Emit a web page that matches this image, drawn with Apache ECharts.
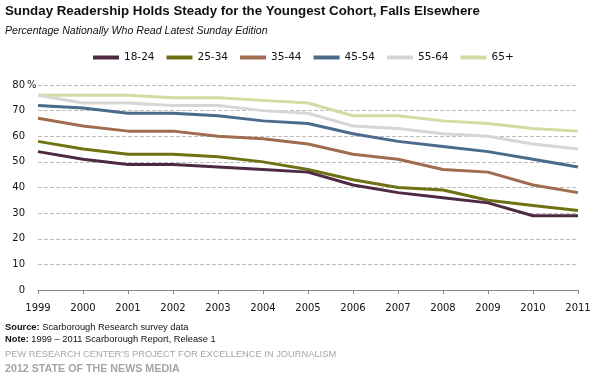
<!DOCTYPE html>
<html><head><meta charset="utf-8">
<script src="https://cdn.jsdelivr.net/npm/echarts@6/dist/echarts.min.js"></script>
<style>html,body{margin:0;padding:0;background:#fff}#c{width:602px;height:385px}</style>
</head><body><div id="c"></div>
<script>
const years = ['1999','2000','2001','2002','2003','2004','2005','2006','2007','2008','2009','2010','2011'];
const yTicks = [0,10,20,30,40,50,60,70,80];
const seriesNames = ['18-24','25-34','35-44','45-54','55-64','65+'];
const v18_24 = [54,51,49,49,48,47,46,41,38,36,34,29,29];
const v25_34 = [58,55,53,53,52,50,47,43,40,39,35,33,31];
const v35_44 = [67,64,62,62,60,59,57,53,51,47,46,41,38];
const v45_54 = [72,71,69,69,68,66,65,61,58,56,54,51,48];
const v55_64 = [76,73,73,72,72,70,69,64,63,61,60,57,55];
const v65p   = [76,76,76,75,75,74,73,68,68,66,65,63,62];
const colors = ['#4d2a42','#6f7212','#a06c50','#4b6b8b','#d6d6d6','#d2dba2'];

const ARIAL = '"Liberation Sans", Arial, sans-serif';
const SANS = '"DejaVu Sans", Verdana, sans-serif';
const allVals = [v18_24, v25_34, v35_44, v45_54, v55_64, v65p];

const chart = echarts.init(document.getElementById('c'), null, {renderer:'canvas'});
chart.setOption({
  animation: false,
  backgroundColor: '#fff',
  title: [
    {text: 'Sunday Readership Holds Steady for the Youngest Cohort, Falls Elsewhere', left: 5, top: 5, padding: 0,
     textStyle: {fontFamily: ARIAL, fontWeight: 'bold', fontSize: 13.3, color: '#111'}},
    {text: 'Percentage Nationally Who Read Latest Sunday Edition', left: 5, top: 26, padding: 0,
     textStyle: {fontFamily: ARIAL, fontStyle: 'italic', fontWeight: 'normal', fontSize: 10.6, color: '#111'}},
    {text: '{b|Source:} Scarborough Research survey data\n{b|Note:} 1999 \u2013 2011 Scarborough Report, Release 1', left: 5, top: 321, padding: 0,
     textStyle: {fontFamily: ARIAL, fontWeight: 'normal', fontSize: 9.3, lineHeight: 12, color: '#111',
       rich: {b: {fontFamily: ARIAL, fontWeight: 'bold', fontSize: 9.3, lineHeight: 12, color: '#111'}}}},
    {text: 'PEW RESEARCH CENTER\u2019S PROJECT FOR EXCELLENCE IN JOURNALISM', left: 5, top: 350, padding: 0,
     textStyle: {fontFamily: ARIAL, fontWeight: 'normal', fontSize: 9.3, color: '#a6a6a6'}},
    {text: '2012 STATE OF THE NEWS MEDIA', left: 5, top: 364, padding: 0,
     textStyle: {fontFamily: ARIAL, fontWeight: 'bold', fontSize: 10.7, color: '#a6a6a6'}}
  ],
  legend: {
    data: seriesNames, left: 93, top: 52, padding: 0,
    icon: 'rect', itemWidth: 26, itemHeight: 4, itemGap: 12,
    textStyle: {fontFamily: SANS, fontSize: 10.5, color: '#111'}
  },
  grid: {left: 38, right: 24, top: 85, bottom: 95, containLabel: false},
  xAxis: {
    type: 'category', data: years, boundaryGap: false,
    axisLine: {lineStyle: {color: '#888', width: 1}},
    axisTick: {show: true, length: 4, lineStyle: {color: '#888'}},
    axisLabel: {interval: 0, fontFamily: SANS, fontSize: 10, color: '#111', margin: 13},
    splitLine: {show: false}
  },
  yAxis: {
    type: 'value', min: yTicks[0], max: yTicks[yTicks.length-1], interval: 10,
    axisLine: {show: false}, axisTick: {show: false},
    axisLabel: {fontFamily: SANS, fontSize: 10, color: '#111', margin: 13},
    splitLine: {show: true, lineStyle: {color: '#bdbdbd', type: [4, 2], width: 1}}
  },
  graphic: [
    {type: 'text', x: 27, y: 85, style: {text: '%', fontFamily: SANS, fontSize: 10, fill: '#111', verticalAlign: 'middle', align: 'left'}}
  ],
  series: seriesNames.map((n, i) => ({
    name: n, type: 'line', data: allVals[i], symbol: 'none', smooth: false,
    color: colors[i], lineStyle: {width: 3, color: colors[i]}, z: 10 - i
  }))
});
</script></body></html>
